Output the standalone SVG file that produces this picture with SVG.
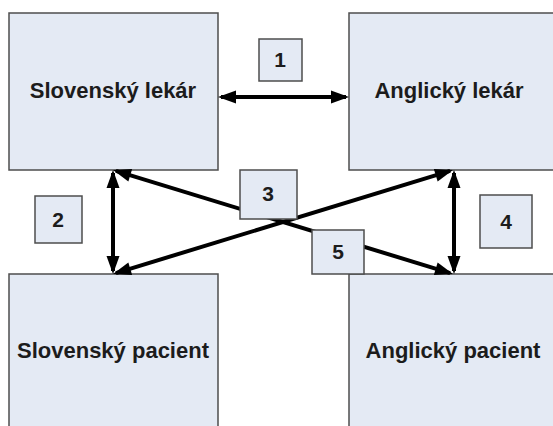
<svg xmlns="http://www.w3.org/2000/svg" width="553" height="426" viewBox="0 0 553 426">
<style>
.box{fill:#e4eaf4;stroke:#4d4d4d;stroke-width:1.5}
.lbl{fill:#e4eaf4;stroke:#4d4d4d;stroke-width:1.5}
.t{font-family:"Liberation Sans",Arial,sans-serif;font-weight:bold;font-size:22px;fill:#1c1c1c;text-anchor:middle}
.n{font-family:"Liberation Sans",Arial,sans-serif;font-weight:bold;font-size:21px;fill:#1c1c1c;text-anchor:middle}
.c{stroke:#000;stroke-width:4;fill:none;marker-start:url(#ah);marker-end:url(#ah)}
</style>
<defs>
<marker id="ah" markerUnits="userSpaceOnUse" markerWidth="18" markerHeight="13" refX="15" refY="6.5" orient="auto-start-reverse" overflow="visible">
<path d="M0,0 L18,6.5 L0,13 z" fill="#000"/>
</marker>
</defs>
<rect width="553" height="426" fill="#fff"/>
<g id="n-slovensky-lekar"><rect class="box" x="9" y="13" width="209" height="157"/><text class="t" x="113" y="98">Slovenský lekár</text></g>
<g id="n-anglicky-lekar"><rect class="box" x="349" y="13" width="210" height="157"/><text class="t" x="449" y="98">Anglický lekár</text></g>
<g id="n-slovensky-pacient"><rect class="box" x="9" y="274" width="209" height="170"/><text class="t" x="113" y="358">Slovenský pacient</text></g>
<g id="n-anglicky-pacient"><rect class="box" x="349" y="274" width="210" height="170"/><text class="t" x="453" y="358">Anglický pacient</text></g>
<g id="connectors">
<line class="c" x1="221" y1="97" x2="346" y2="97"/>
<line class="c" x1="113" y1="173" x2="113" y2="271"/>
<line class="c" x1="454" y1="173" x2="454" y2="271"/>
<line class="c" x1="115.9" y1="170.9" x2="450.1" y2="273.1"/>
<line class="c" x1="115.9" y1="273.1" x2="450.1" y2="170.9"/>
</g>
<g id="l1"><rect class="lbl" x="259" y="39" width="43" height="42"/><text class="n" x="280" y="67">1</text></g>
<g id="l2"><rect class="lbl" x="35" y="196" width="47" height="47"/><text class="n" x="58" y="227">2</text></g>
<g id="l3"><rect class="lbl" x="240" y="170" width="57" height="49"/><text class="n" x="268" y="201">3</text></g>
<g id="l4"><rect class="lbl" x="480" y="195" width="52" height="53"/><text class="n" x="506" y="229">4</text></g>
<g id="l5"><rect class="lbl" x="312" y="230" width="52" height="44"/><text class="n" x="338" y="259">5</text></g>
</svg>
